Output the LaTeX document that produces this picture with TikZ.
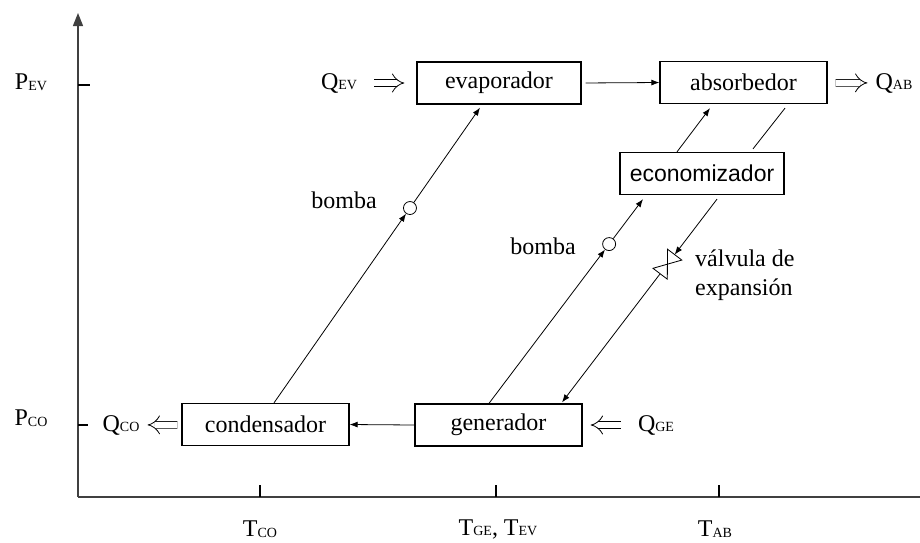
\documentclass[tikz,border=0pt]{standalone}
\usepackage{fontspec}
\setmainfont{Liberation Serif}
\newfontfamily\econfont{Liberation Sans}
\usetikzlibrary{arrows.meta,calc}
% variable with a small capital index set close to the baseline
\newcommand{\qty}[2]{#1\raisebox{-0.5pt}{\fontsize{14}{14}\selectfont #2}}

\tikzset{
  valvepic/.pic={
    \draw[line width=0.8pt, fill=white] (0,0) -- (12,9) -- (12,-9) -- cycle;
    \draw[line width=0.8pt, fill=white] (0,0) -- (-12,9) -- (-12,-9) -- cycle;
    \coordinate (-top) at (12,0);
    \coordinate (-bot) at (-12,0);
  }
}

\begin{document}
\begin{tikzpicture}[x=1pt,y=-1pt,
  every node/.style={font=\fontsize{24}{29}\selectfont},
  unit/.style={draw, line width=1.3pt, minimum height=42pt, inner sep=0pt},
  lbl/.style={inner sep=0pt},
  flow/.style={line width=0.8pt, -{Latex[length=8pt,width=6pt]}},
  plain/.style={line width=0.8pt},
  heat/.style={double, double distance=6pt, line width=0.8pt, -{Implies}},
  pump/.style={circle, draw, line width=0.8pt, minimum size=13pt, inner sep=0pt, fill=white},
  axis/.style={line width=1.4pt, draw=black!75},
  tick/.style={line width=1.2pt},
]
\fill[white] (0,0) rectangle (920,542);
\useasboundingbox (0,0) rectangle (920,542);

% axes
\draw[axis, -{Triangle[length=13pt,width=10pt]}] (78,497) -- (78,13);
\draw[axis] (78,497) -- (920,497);
\draw[tick] (78,85) -- (90,85);
\draw[tick] (78,425) -- (88,425);
\draw[tick] (260,485) -- (260,497);
\draw[tick] (496,485) -- (496,497);
\draw[tick] (719,485) -- (719,497);

\node[lbl] (pev) at (31,82) {\qty{P}{EV}};
\node[lbl] (pco) at (31,418) {\qty{P}{CO}};
\node[lbl] (tco) at (260,529) {\qty{T}{CO}};
\node[lbl] (tge) at (498,529) {\qty{T}{GE}, \qty{T}{EV}};
\node[lbl] (tab) at (715,529) {\qty{T}{AB}};

% components
\node[unit, minimum width=164pt] (evap) at (499,83) {evaporador};
\node[unit, minimum width=167pt] (absb) at (743.5,82.5) {absorbedor};
\node[unit, minimum width=164pt, font=\econfont\fontsize{23}{27}\selectfont] (econ) at (702,173.5) {economizador};
\node[unit, minimum width=167pt] (cond) at (265.5,424.5) {condensador};
\node[unit, minimum width=167pt] (gen) at (498.5,425) {generador};

% heat flows
\node[lbl] (qev) at (339,83) {\qty{Q}{EV}};
\node[lbl] (qab) at (894,83) {\qty{Q}{AB}};
\node[lbl] (qco) at (121,425) {\qty{Q}{CO}};
\node[lbl] (qge) at (656,425) {\qty{Q}{GE}};
\draw[heat, shorten <=17pt, shorten >=12pt] (qev) -- (evap);
\draw[heat, shorten <=8pt, shorten >=8pt] (absb) -- (qab);
\draw[heat, shorten <=4pt, shorten >=8pt] (cond) -- (qco);
\draw[heat, shorten <=17pt, shorten >=8pt] (qge) -- (gen);

% refrigerant lines
\draw[flow, shorten <=4pt] (evap.east) -- (absb.west);
\draw[flow] (gen.west) -- (cond.east);

\coordinate (c1) at ($(cond.north)+(8.5,0)$);
\coordinate (e1) at ($(evap.south)+(-19,3)$);
\path (c1) -- (e1) node[pump, pos=0.66] (p1) {};
\draw[flow] (c1) -- (p1);
\draw[flow] (p1) -- (e1);
\node[lbl] (b1) at (344,200) {bomba};

% solution lines
\coordinate (g1) at ($(gen.north)+(-9.5,0)$);
\coordinate (n1) at ($(econ.south)+(-59,4)$);
\path (g1) -- (n1) node[pump, pos=0.78] (p2) {};
\draw[flow] (g1) -- (p2);
\draw[flow] (p2) -- (n1);
\node[lbl] (b2) at (543,246) {bomba};

\coordinate (n2) at ($(econ.north)+(-25,0)$);
\coordinate (a1) at ($(absb.south)+(-33.5,4)$);
\draw[flow] (n2) -- (a1);

\coordinate (a2) at ($(absb.south)+(41.5,4)$);
\coordinate (n3) at ($(econ.north)+(51,-3)$);
\draw[plain] (a2) -- (n3);

\coordinate (n4) at ($(econ.south)+(15,4)$);
\coordinate (g2) at ($(gen.north)+(63.5,-1)$);
\path (n4) -- (g2) coordinate[pos=0.32] (vc);
\pic[rotate=52.8] (valve) at (vc) {valvepic};
\draw[flow] (n4) -- (valve-top);
\draw[flow] (valve-bot) -- (g2);
\node[lbl, align=left, anchor=north west] (vlab) at (695,250) {válvula de\\expansión};
\end{tikzpicture}
\end{document}
